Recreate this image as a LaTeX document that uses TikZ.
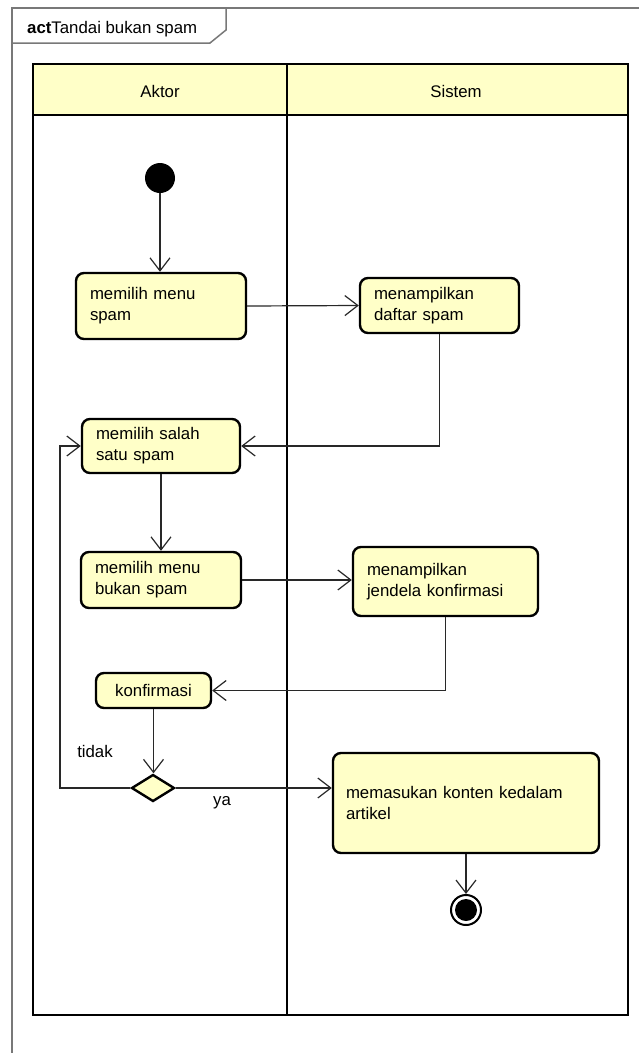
\documentclass[tikz,border=0pt]{standalone}
\usepackage{fontspec}
\setmainfont{Liberation Sans}
\usetikzlibrary{arrows.meta,shapes.geometric}
\definecolor{yel}{RGB}{255,255,200}
\definecolor{frm}{RGB}{120,120,120}
\definecolor{cn}{RGB}{40,40,40}
\tikzset{
  txt/.style={font=\fontsize{16.8}{21}\selectfont},
  actbox/.style={draw, line width=2.4pt, rounded corners=8pt, fill=yel, txt, align=left, inner xsep=14pt, inner ysep=0pt},
  conn/.style={draw=cn, line width=1.2pt, -{Straight Barb[length=13pt,width=20pt,line width=1.2pt]}},
  lane/.style={line width=2.6pt}
}
\begin{document}
\begin{tikzpicture}[x=1pt,y=-1pt]
\useasboundingbox (0,0) rectangle (639,1053);
% outer frame
\draw[frm, line width=1.5pt] (12,1060) -- (12,8) -- (645,8);
\draw[frm, line width=1.5pt] (12,43) -- (210,43) -- (226,30) -- (226,8);
\node[txt, anchor=base west, inner sep=0pt] (title) at (27,33) {\textbf{act}Tandai bukan spam};
% swimlanes
\fill[yel] (33,64) rectangle (628,115);
\draw[lane] (33,64) rectangle (628,1015);
\draw[lane] (33,115) -- (628,115);
\draw[lane] (287,64) -- (287,1015);
\node[txt] (aktor) at (160,91) {Aktor};
\node[txt] (sistem) at (456,91) {Sistem};
% nodes
\node[circle, fill=black, minimum size=30pt, inner sep=0pt] (init) at (160,178) {};
\node[actbox, text width=142pt, minimum height=66pt] (ms) at (161,306) {memilih menu\\spam};
\node[actbox, text width=131pt, minimum height=55pt] (ds) at (439.5,305.5) {menampilkan\\daftar spam};
\node[actbox, text width=130pt, minimum height=54pt] (ss) at (161,446) {memilih salah\\satu spam};
\node[actbox, text width=132pt, minimum height=56pt] (bs) at (161,580) {memilih menu\\bukan spam};
\node[actbox, text width=157pt, minimum height=69pt] (jk) at (445.5,581.5) {menampilkan\\jendela konfirmasi};
\node[actbox, align=center, text width=87pt, minimum height=35pt] (kf) at (153.5,690.5) {konfirmasi};
\node[diamond, draw, line width=2.4pt, fill=yel, minimum width=43pt, minimum height=27pt, inner sep=0pt] (dec) at (153,788) {};
\node[actbox, inner xsep=13pt, text width=240pt, minimum height=100pt] (mk) at (466,803) {memasukan konten kedalam\\artikel};
\node[circle, draw, line width=2pt, fill=white, minimum size=30pt, inner sep=0pt] (fin) at (466,910) {};
\fill (fin.center) circle (11pt);
\coordinate (lp) at (60,446);
% labels
\node[txt] (tidak) at (95,751) {tidak};
\node[txt] (ya) at (222,803) {ya};
% connectors
\draw[conn] (init.south) -- (init.south |- ms.north);
\draw[conn] (ms.east) -- (ds.west);
\draw[conn] (ds.south) -- (ds.south |- ss.east) -- (ss.east);
\draw[conn] (ss.south) -- (bs.north);
\draw[conn] (bs.east) -- (bs.east -| jk.west);
\draw[conn] (jk.south) -- (jk.south |- kf.east) -- (kf.east);
\draw[conn] (kf.south) -- (kf.south |- dec.north);
\draw[conn] (dec.east) -- (dec.east -| mk.west);
\draw[conn] (dec.west) -- (dec.west -| lp) -- (lp) -- (ss.west);
\draw[conn] (mk.south) -- (fin.north);
\end{tikzpicture}
\end{document}
